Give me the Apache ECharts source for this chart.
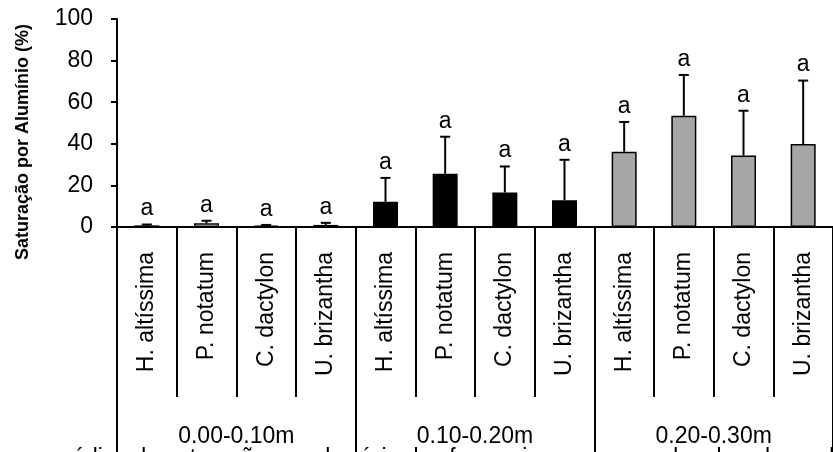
<!DOCTYPE html>
<html>
<head>
<meta charset="utf-8">
<script src="https://cdn.jsdelivr.net/npm/echarts@6/dist/echarts.min.js"></script>
<style>
html,body{margin:0;padding:0;background:#fff}
#chart{width:833px;height:452px}
</style>
</head>
<body>
<div id="chart"></div>
<script>
// especies por camada e camadas de solo
var species = ['H. altíssima', 'P. notatum', 'C. dactylon', 'U. brizantha'];
var depths = ['0.00-0.10m', '0.10-0.20m', '0.20-0.30m'];

// saturação por alumínio (%) - médias e desvio (só para cima)
var mean_0010 = [0.8, 1.8, 0.7, 1.0];
var err_0010 = [0.4, 1.2, 0.3, 1.0];
var mean_1020 = [12.1, 25.6, 16.6, 12.9];
var err_1020 = [11.5, 17.8, 12.5, 19.4];
var mean_2030 = [36.2, 53.5, 34.4, 39.9];
var err_2030 = [14.3, 19.6, 21.5, 30.5];

// letras do teste de médias
var letters_0010 = ['a', 'a', 'a', 'a'];
var letters_1020 = ['a', 'a', 'a', 'a'];
var letters_2030 = ['a', 'a', 'a', 'a'];

var yTicks = [0, 20, 40, 60, 80, 100];

var caption = 'médias de saturação por alumínio das forrageiras nas camadas do solo, onde médias seguidas';

var FONT = '"Liberation Sans", Arial, sans-serif';
var depthFill = ['#ffffff', '#000000', '#a6a6a6'];

var means = [mean_0010, mean_1020, mean_2030];
var errs = [err_0010, err_1020, err_2030];
var letters = [letters_0010, letters_1020, letters_2030];

var cats = [], barData = [], errData = [], labelList = [];
for (var d = 0; d < depths.length; d++) {
	for (var s = 0; s < species.length; s++) {
		var idx = cats.length;
		cats.push(species[s]);
		barData.push({
			value: means[d][s],
			itemStyle: {color: depthFill[d]}
		});
		errData.push([idx, means[d][s], means[d][s] + errs[d][s]]);
		labelList.push(letters[d][s]);
	}
}

function renderErr(params, api) {
	var i = api.value(0);
	var base = api.coord([i, api.value(1)]);
	var top = api.coord([i, api.value(2)]);
	var ls = {stroke: '#000', lineWidth: 2};
	return {
		type: 'group',
		children: [
			{type: 'line', shape: {x1: base[0], y1: base[1], x2: top[0], y2: top[1]}, style: ls},
			{type: 'line', shape: {x1: top[0] - 5, y1: top[1], x2: top[0] + 5, y2: top[1]}, style: ls},
			{type: 'text', style: {
				text: labelList[i], x: top[0], y: top[1] - 4,
				align: 'center', verticalAlign: 'bottom',
				fontSize: 23, fontFamily: FONT, fill: '#000'
			}}
		]
	};
}

var chart = echarts.init(document.getElementById('chart'));
var option = {
	animation: false,
	textStyle: {fontFamily: FONT},
	grid: {left: 117, top: 19, width: 731, height: 208},
	xAxis: [{
		type: 'category',
		data: cats,
		axisLine: {lineStyle: {color: '#000', width: 2}},
		axisTick: {show: true, interval: 0, length: 170, lineStyle: {color: '#000', width: 2}},
		axisLabel: {interval: 0, rotate: 90, margin: 25, fontSize: 23, color: '#000', fontFamily: FONT},
		splitLine: {show: false}
	}, {
		type: 'category',
		data: depths,
		position: 'bottom',
		axisLine: {show: false},
		axisTick: {show: true, interval: 0, length: 235, lineStyle: {color: '#000', width: 2}},
		axisLabel: {interval: 0, margin: 198, fontSize: 23, color: '#000', fontFamily: FONT},
		splitLine: {show: false}
	}],
	yAxis: {
		type: 'value',
		min: 0, max: 100, interval: 20,
		axisLine: {show: true, lineStyle: {color: '#000', width: 2}},
		axisTick: {show: true, length: 6, lineStyle: {color: '#000', width: 2}},
		axisLabel: {
			margin: 24, fontSize: 23, color: '#000', fontFamily: FONT,
			formatter: function (v) { return yTicks.indexOf(v) >= 0 ? String(v) : ''; }
		},
		splitLine: {show: false}
	},
	graphic: [{
		type: 'text',
		x: 23, y: 142,
		rotation: Math.PI / 2,
		style: {
			text: 'Saturação por Alumínio (%)',
			align: 'center', verticalAlign: 'middle',
			font: 'bold 18px ' + FONT, fill: '#000'
		}
	}, {
		type: 'text',
		x: 53, y: 447,
		style: {
			text: caption,
			align: 'left', verticalAlign: 'top',
			font: '23px ' + FONT, fill: '#000'
		}
	}],
	series: [{
		type: 'bar',
		xAxisIndex: 0,
		barWidth: 25,
		data: barData,
		itemStyle: {borderColor: '#000', borderWidth: 1.5}
	}, {
		type: 'custom',
		xAxisIndex: 0,
		renderItem: renderErr,
		encode: {x: 0, y: 2},
		data: errData,
		z: 5
	}]
};
chart.setOption(option);

window.onresize = function () {
	chart.resize();
};
</script>
</body>
</html>
